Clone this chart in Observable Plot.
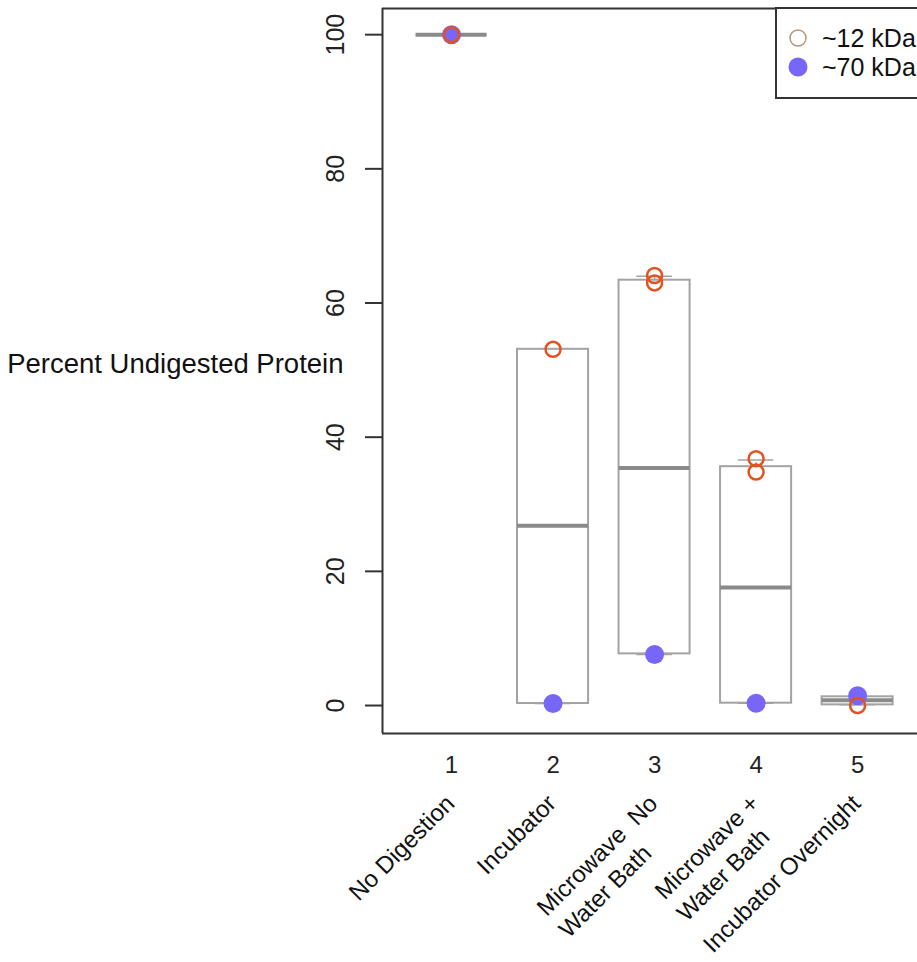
<!DOCTYPE html>
<html><head><meta charset="utf-8">
<script src="https://cdn.jsdelivr.net/npm/d3@7"></script>
<script src="https://cdn.jsdelivr.net/npm/@observablehq/plot@0.6"></script>
<style>
html,body{margin:0;padding:0;background:#fff;}
#chart svg{display:block;}
#chart svg text{white-space:pre;}
</style></head><body><div id="chart"></div>
<script>
// ---- data ----
const groups = [1, 2, 3, 4, 5];
const categories = ["No Digestion", "Incubator", "Microwave  No\nWater Bath", "Microwave +\nWater Bath", "Incubator Overnight"];
const boxLow = [100, 0.3, 7.7, 0.35, 0.1];
const boxHigh = [100, 53.1, 63.4, 35.6, 1.3];
const medians = [100, 26.8, 35.4, 17.6, 0.8];
const whiskerLow = [100, 0.3, 7.6, 0.35, 0.1];
const whiskerHigh = [100, 53.1, 64.0, 36.6, 1.3];
const kDa12Group = [1, 2, 3, 3, 4, 4, 5];
const kDa12Value = [100, 53.1, 64.1, 63.0, 36.8, 34.8, 0.0];
const kDa70Group = [1, 2, 3, 4, 5];
const kDa70Value = [100, 0.3, 7.6, 0.35, 1.45];
const yTicks = [0, 20, 40, 60, 80, 100];
const yLabel = "Percent Undigested Protein";
const legendLabels = ["~12 kDa", "~70 kDa"];

// ---- layout / styles ----
const W = 917, H = 962;
const mL = 382, mR = 0, mT = 8, mB = 229;
const xDomain = [0.32, 5.59];
const yDomain = [-4.17, 103.9];
const pxX = (W - mL - mR) / (xDomain[1] - xDomain[0]);
const pxY = (H - mT - mB) / (yDomain[1] - yDomain[0]);
const half = 0.35;
const labelSize = 24, labelDown = 66, lineGap = 31;
const font = "'Liberation Sans', Arial, Helvetica, sans-serif";
const boxStroke = "#a3a3a3";
const medStroke = "#8a8a8a";
const orange = "#e2531f";
const blue = "#7866f7";

// measure first-line widths so that second lines start under the first line's start
const ctx = document.createElement("canvas").getContext("2d");
ctx.font = `${labelSize}px 'Liberation Sans', Arial, sans-serif`;
const c45 = Math.SQRT1_2;

const boxes = groups.map((g, i) => {
  const parts = categories[i].split("\n");
  return {g, lo: boxLow[i], hi: boxHigh[i], med: medians[i], wlo: whiskerLow[i], whi: whiskerHigh[i], l1: parts[0], l2: parts[1] || null, w1: ctx.measureText(parts[0]).width};
});
const withL2 = boxes.filter(d => d.l2);
const p12 = kDa12Group.map((g, i) => ({g, v: kDa12Value[i]}));
const p70 = kDa70Group.map((g, i) => ({g, v: kDa70Value[i]}));

const plot = Plot.plot({
  width: W, height: H,
  marginLeft: mL, marginRight: mR, marginTop: mT, marginBottom: mB,
  style: {fontFamily: font, background: "#fff", color: "#222", overflow: "visible"},
  x: {type: "linear", domain: xDomain},
  y: {domain: yDomain},
  marks: [
    Plot.ruleX(boxes, {x: "g", y1: "hi", y2: "whi", stroke: boxStroke, strokeWidth: 1.5, strokeDasharray: "4,3"}),
    Plot.ruleX(boxes, {x: "g", y1: "wlo", y2: "lo", stroke: boxStroke, strokeWidth: 1.5, strokeDasharray: "4,3"}),
    Plot.ruleY(boxes, {y: "whi", x1: d => d.g - half / 2, x2: d => d.g + half / 2, stroke: boxStroke, strokeWidth: 1.5}),
    Plot.ruleY(boxes, {y: "wlo", x1: d => d.g - half / 2, x2: d => d.g + half / 2, stroke: boxStroke, strokeWidth: 1.5}),
    Plot.rect(boxes, {x1: d => d.g - half, x2: d => d.g + half, y1: "lo", y2: "hi", fill: "#fff", stroke: boxStroke, strokeWidth: 2}),
    Plot.ruleY(boxes, {y: "med", x1: d => d.g - half, x2: d => d.g + half, stroke: medStroke, strokeWidth: 4}),
    Plot.dot(p70, {x: "g", y: "v", r: 9.5, fill: blue, stroke: "none"}),
    Plot.dot(p12, {x: "g", y: "v", r: 7.5, fill: "none", stroke: orange, strokeWidth: 2.5}),
    Plot.axisY(yTicks, {tickSize: 17, tickRotate: -90, tickPadding: 22, fontSize: 25, label: null, stroke: "#333", strokeWidth: 2}),
    Plot.axisX(groups, {tickSize: 0, tickPadding: 22, fontSize: 24, label: null}),
    // first lines: end of the line at the group position
    Plot.text(boxes, {x: "g", text: "l1", frameAnchor: "bottom", dx: -1, dy: labelDown, rotate: -45, textAnchor: "end", lineAnchor: "middle", fontSize: labelSize, fill: "#111"}),
    // second lines: left-aligned with the first line, one line lower
    Plot.text(withL2, {
      x: d => d.g + c45 * (lineGap - d.w1) / pxX,
      y: d => yDomain[0] - (labelDown + c45 * (d.w1 + lineGap)) / pxY,
      text: "l2", dx: -1, rotate: -45, textAnchor: "start", lineAnchor: "middle", fontSize: labelSize, fill: "#111"
    }),
    Plot.text([yLabel], {text: d => d, frameAnchor: "left", textAnchor: "end", dx: -39, dy: -7, fontSize: 27.5, fill: "#111"}),
    Plot.ruleY([yDomain[0], yDomain[1]], {stroke: "#333", strokeWidth: 2}),
    Plot.ruleX([xDomain[0]], {stroke: "#333", strokeWidth: 2})
  ]
});

// ---- legend ----
const svg = d3.select(plot);
const lg = svg.append("g").attr("font-family", font).attr("text-anchor", "start");
lg.append("rect").attr("x", 776).attr("y", 8).attr("width", 200).attr("height", 90)
  .attr("fill", "#fff").attr("stroke", "#333").attr("stroke-width", 2);
const rows = lg.selectAll("g.row").data(legendLabels).join("g").attr("class", "row")
  .attr("transform", (d, i) => `translate(0,${38 + i * 29})`);
rows.append("circle").attr("cx", 798).attr("cy", 0).attr("r", (d, i) => i === 0 ? 8 : 9.5)
  .attr("fill", (d, i) => i === 0 ? "none" : blue)
  .attr("stroke", (d, i) => i === 0 ? "#b89478" : "none").attr("stroke-width", 1.5);
rows.append("text").attr("x", 822).attr("y", 0).attr("dy", "0.35em").attr("font-size", 25)
  .attr("text-anchor", "start").attr("fill", "#111").text(d => d);

document.getElementById("chart").appendChild(plot);
</script>
</body></html>
